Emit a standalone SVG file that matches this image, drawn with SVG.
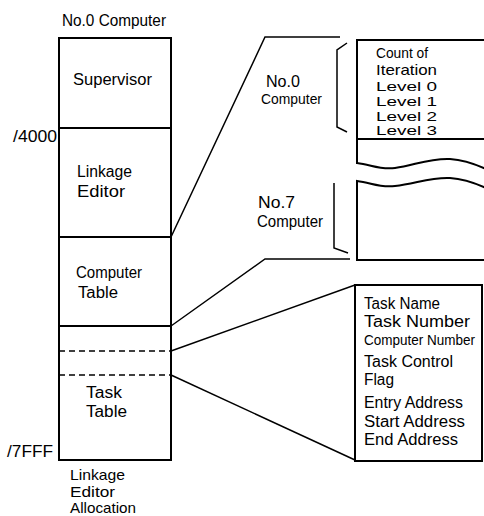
<svg xmlns="http://www.w3.org/2000/svg" width="484" height="516" viewBox="0 0 484 516">
  <style>
    .box { fill: none; stroke: #000; stroke-width: 2; }
    .thin { fill: none; stroke: #000; stroke-width: 1.5; }
    .dash { fill: none; stroke: #000; stroke-width: 1.6; stroke-dasharray: 6 4; }
    text { font-family: "Liberation Sans", Arial, sans-serif; font-size: 16px; fill: #000; }
    .lv { font-size: 13px; }
    .sm { font-size: 15px; }
    .xs { font-size: 14px; }
  </style>
  <rect width="484" height="516" fill="#fff"/>

  <!-- memory map of the No.0 computer -->
  <g id="memory-map">
    <text x="62" y="26" textLength="104" lengthAdjust="spacingAndGlyphs">No.0 Computer</text>
    <rect class="box" x="59" y="38" width="112" height="422"/>
    <line class="box" x1="59" y1="128" x2="171" y2="128"/>
    <line class="box" x1="59" y1="237" x2="171" y2="237"/>
    <line class="box" x1="59" y1="326" x2="171" y2="326"/>
    <line class="dash" x1="59" y1="351" x2="171" y2="351"/>
    <line class="dash" x1="59" y1="375" x2="171" y2="375"/>
    <text x="13" y="142" textLength="44" lengthAdjust="spacingAndGlyphs">/4000</text>
    <text x="7" y="457" textLength="46" lengthAdjust="spacingAndGlyphs">/7FFF</text>
  </g>
  <g id="supervisor">
    <text x="73" y="85" textLength="79" lengthAdjust="spacingAndGlyphs">Supervisor</text>
  </g>
  <g id="linkage-editor">
    <text x="77" y="177" textLength="55" lengthAdjust="spacingAndGlyphs">Linkage</text>
    <text x="77" y="197" textLength="48" lengthAdjust="spacingAndGlyphs">Editor</text>
  </g>
  <g id="computer-table">
    <text x="76" y="278" textLength="66" lengthAdjust="spacingAndGlyphs">Computer</text>
    <text x="78" y="298" textLength="40" lengthAdjust="spacingAndGlyphs">Table</text>
  </g>
  <g id="task-table">
    <text x="86" y="398" textLength="36" lengthAdjust="spacingAndGlyphs">Task</text>
    <text x="86" y="417" textLength="41" lengthAdjust="spacingAndGlyphs">Table</text>
  </g>
  <g id="caption">
    <text class="sm" x="70" y="480" textLength="55" lengthAdjust="spacingAndGlyphs">Linkage</text>
    <text class="sm" x="70" y="497" textLength="45" lengthAdjust="spacingAndGlyphs">Editor</text>
    <text class="sm" x="70" y="513" textLength="66" lengthAdjust="spacingAndGlyphs">Allocation</text>
  </g>

  <!-- expanded computer table -->
  <g id="computer-entries">
    <path class="box" d="M 490 40 H 357 V 163 C 372 165 380 170 395 168 C 415 165 430 158 450 159 C 465 160 475 164 486 169"/>
    <line class="box" x1="357" y1="139" x2="486" y2="139"/>
    <path class="box" d="M 486 188 C 475 183 465 179 450 178 C 430 177 415 184 395 186 C 380 188 372 183 357 181 V 260 H 490"/>
    <text class="sm" x="376" y="58" textLength="52" lengthAdjust="spacingAndGlyphs">Count of</text>
    <text class="sm" x="376" y="75" textLength="61" lengthAdjust="spacingAndGlyphs">Iteration</text>
    <text class="lv" x="376" y="91" textLength="61" lengthAdjust="spacingAndGlyphs">Level  0</text>
    <text class="lv" x="376" y="106" textLength="61" lengthAdjust="spacingAndGlyphs">Level  1</text>
    <text class="lv" x="376" y="121" textLength="61" lengthAdjust="spacingAndGlyphs">Level  2</text>
    <text class="lv" x="376" y="135" textLength="61" lengthAdjust="spacingAndGlyphs">Level  3</text>
  </g>
  <g id="no0-computer">
    <path class="thin" d="M 347 43 L 337 50 V 127 L 347 132"/>
    <text x="266" y="87" textLength="34" lengthAdjust="spacingAndGlyphs">No.0</text>
    <text class="sm" x="261" y="104" textLength="61" lengthAdjust="spacingAndGlyphs">Computer</text>
  </g>
  <g id="no7-computer">
    <path class="thin" d="M 334 183 V 248 L 348 253"/>
    <text x="258" y="208" textLength="37" lengthAdjust="spacingAndGlyphs">No.7</text>
    <text x="257" y="227" textLength="66" lengthAdjust="spacingAndGlyphs">Computer</text>
  </g>

  <!-- expanded task table entry -->
  <g id="task-entry">
    <rect class="box" x="355" y="285" width="127" height="176"/>
    <text x="364" y="309" textLength="76" lengthAdjust="spacingAndGlyphs">Task Name</text>
    <text x="364" y="327" textLength="106" lengthAdjust="spacingAndGlyphs">Task Number</text>
    <text class="xs" x="364" y="345" textLength="111" lengthAdjust="spacingAndGlyphs">Computer Number</text>
    <text x="364" y="367" textLength="89" lengthAdjust="spacingAndGlyphs">Task Control</text>
    <text x="364" y="385" textLength="30" lengthAdjust="spacingAndGlyphs">Flag</text>
    <text x="364" y="408" textLength="99" lengthAdjust="spacingAndGlyphs">Entry Address</text>
    <text x="364" y="427" textLength="101" lengthAdjust="spacingAndGlyphs">Start Address</text>
    <text x="364" y="445" textLength="94" lengthAdjust="spacingAndGlyphs">End Address</text>
  </g>

  <!-- projection lines -->
  <g id="connectors">
    <polyline class="thin" points="171,237 265,37 340,37"/>
    <polyline class="thin" points="171,326 265,259 350,259"/>
    <line class="thin" x1="171" y1="351" x2="355" y2="285"/>
    <line class="thin" x1="171" y1="375" x2="355" y2="460"/>
  </g>
</svg>
